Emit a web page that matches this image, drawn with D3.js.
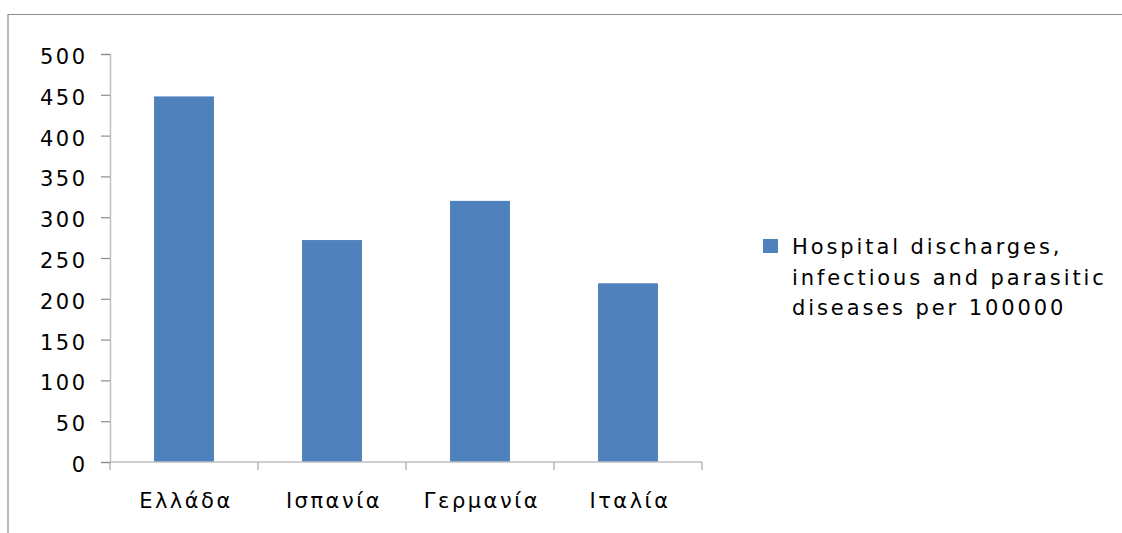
<!DOCTYPE html>
<html>
<head>
<meta charset="utf-8">
<script src="https://cdn.jsdelivr.net/npm/d3@7"></script>
<style>
  body { margin: 0; background: #fff; }
  text { font-family: "DejaVu Sans", sans-serif; fill: #000; }
</style>
</head>
<body>
<div id="chart"></div>
<script>
// Data
const countries = ["Ελλάδα", "Ισπανία", "Γερμανία", "Ιταλία"];
const discharges = [448, 272, 320, 219];
const yTicks = [0, 50, 100, 150, 200, 250, 300, 350, 400, 450, 500];
const legendLines = ["Hospital discharges,", "infectious and parasitic", "diseases per 100000"];

const W = 1122, H = 533;
const margin = {top: 54, left: 110};
const width = 592;
const height = 408;

const svg = d3.select("#chart")
    .append("svg")
    .attr("width", W)
    .attr("height", H);

// Outer chart frame (only top and left edges visible)
svg.append("path")
    .attr("d", `M8,${H} V14.5 H${W}`)
    .attr("fill", "none")
    .attr("stroke", "#8c8c8c")
    .attr("stroke-width", 1.2);

const g = svg.append("g")
    .attr("transform", `translate(${margin.left},${margin.top})`);

// Scales
const x = d3.scaleBand()
    .domain(countries)
    .range([0, width])
    .paddingInner(0.595)
    .paddingOuter(0.2975);

const y = d3.scaleLinear()
    .domain([0, 500])
    .range([height, 0]);

// Bars
g.selectAll("rect.bar")
    .data(countries)
    .enter()
    .append("rect")
    .attr("class", "bar")
    .attr("x", d => x(d))
    .attr("y", (d, i) => y(discharges[i]))
    .attr("width", x.bandwidth())
    .attr("height", (d, i) => height - y(discharges[i]))
    .attr("fill", "#4f81bd");

// Y axis
const yAxis = g.append("g")
    .call(d3.axisLeft(y).tickValues(yTicks).tickSize(9).tickPadding(13.5));
yAxis.select(".domain").attr("stroke", "#bfbfbf").attr("stroke-width", 1.5);
yAxis.selectAll(".tick line").attr("stroke", "#8c8c8c").attr("stroke-width", 1.2);
yAxis.selectAll(".tick text")
    .attr("dy", "0.45em")
    .style("font-size", "21px")
    .style("letter-spacing", "2.5px");

// X axis with ticks between categories
const xAxis = g.append("g")
    .attr("transform", `translate(0,${height})`);
xAxis.append("line")
    .attr("x1", 0).attr("x2", width)
    .attr("stroke", "#bfbfbf").attr("stroke-width", 1.5);
const step = x.step();
const boundaries = d3.range(countries.length + 1).map(i => i * step);
xAxis.selectAll("line.tick")
    .data(boundaries)
    .enter()
    .append("line")
    .attr("class", "tick")
    .attr("x1", d => d).attr("x2", d => d)
    .attr("y1", 0).attr("y2", 8)
    .attr("stroke", "#a6a6a6").attr("stroke-width", 1.2);
xAxis.selectAll("text")
    .data(countries)
    .enter()
    .append("text")
    .attr("x", d => x(d) + x.bandwidth() / 2 + 2)
    .attr("y", 46)
    .attr("text-anchor", "middle")
    .style("font-size", "21px")
    .style("letter-spacing", "2.5px")
    .text(d => d);

// Legend
const legend = svg.append("g")
    .attr("transform", "translate(763,239)");
legend.append("rect")
    .attr("width", 15)
    .attr("height", 14)
    .attr("fill", "#4f81bd");
legend.selectAll("text")
    .data(legendLines)
    .enter()
    .append("text")
    .attr("x", 29)
    .attr("y", (d, i) => 15 + i * 30.5)
    .style("font-size", "21px")
    .style("letter-spacing", "2.9px")
    .text(d => d);
</script>
</body>
</html>
